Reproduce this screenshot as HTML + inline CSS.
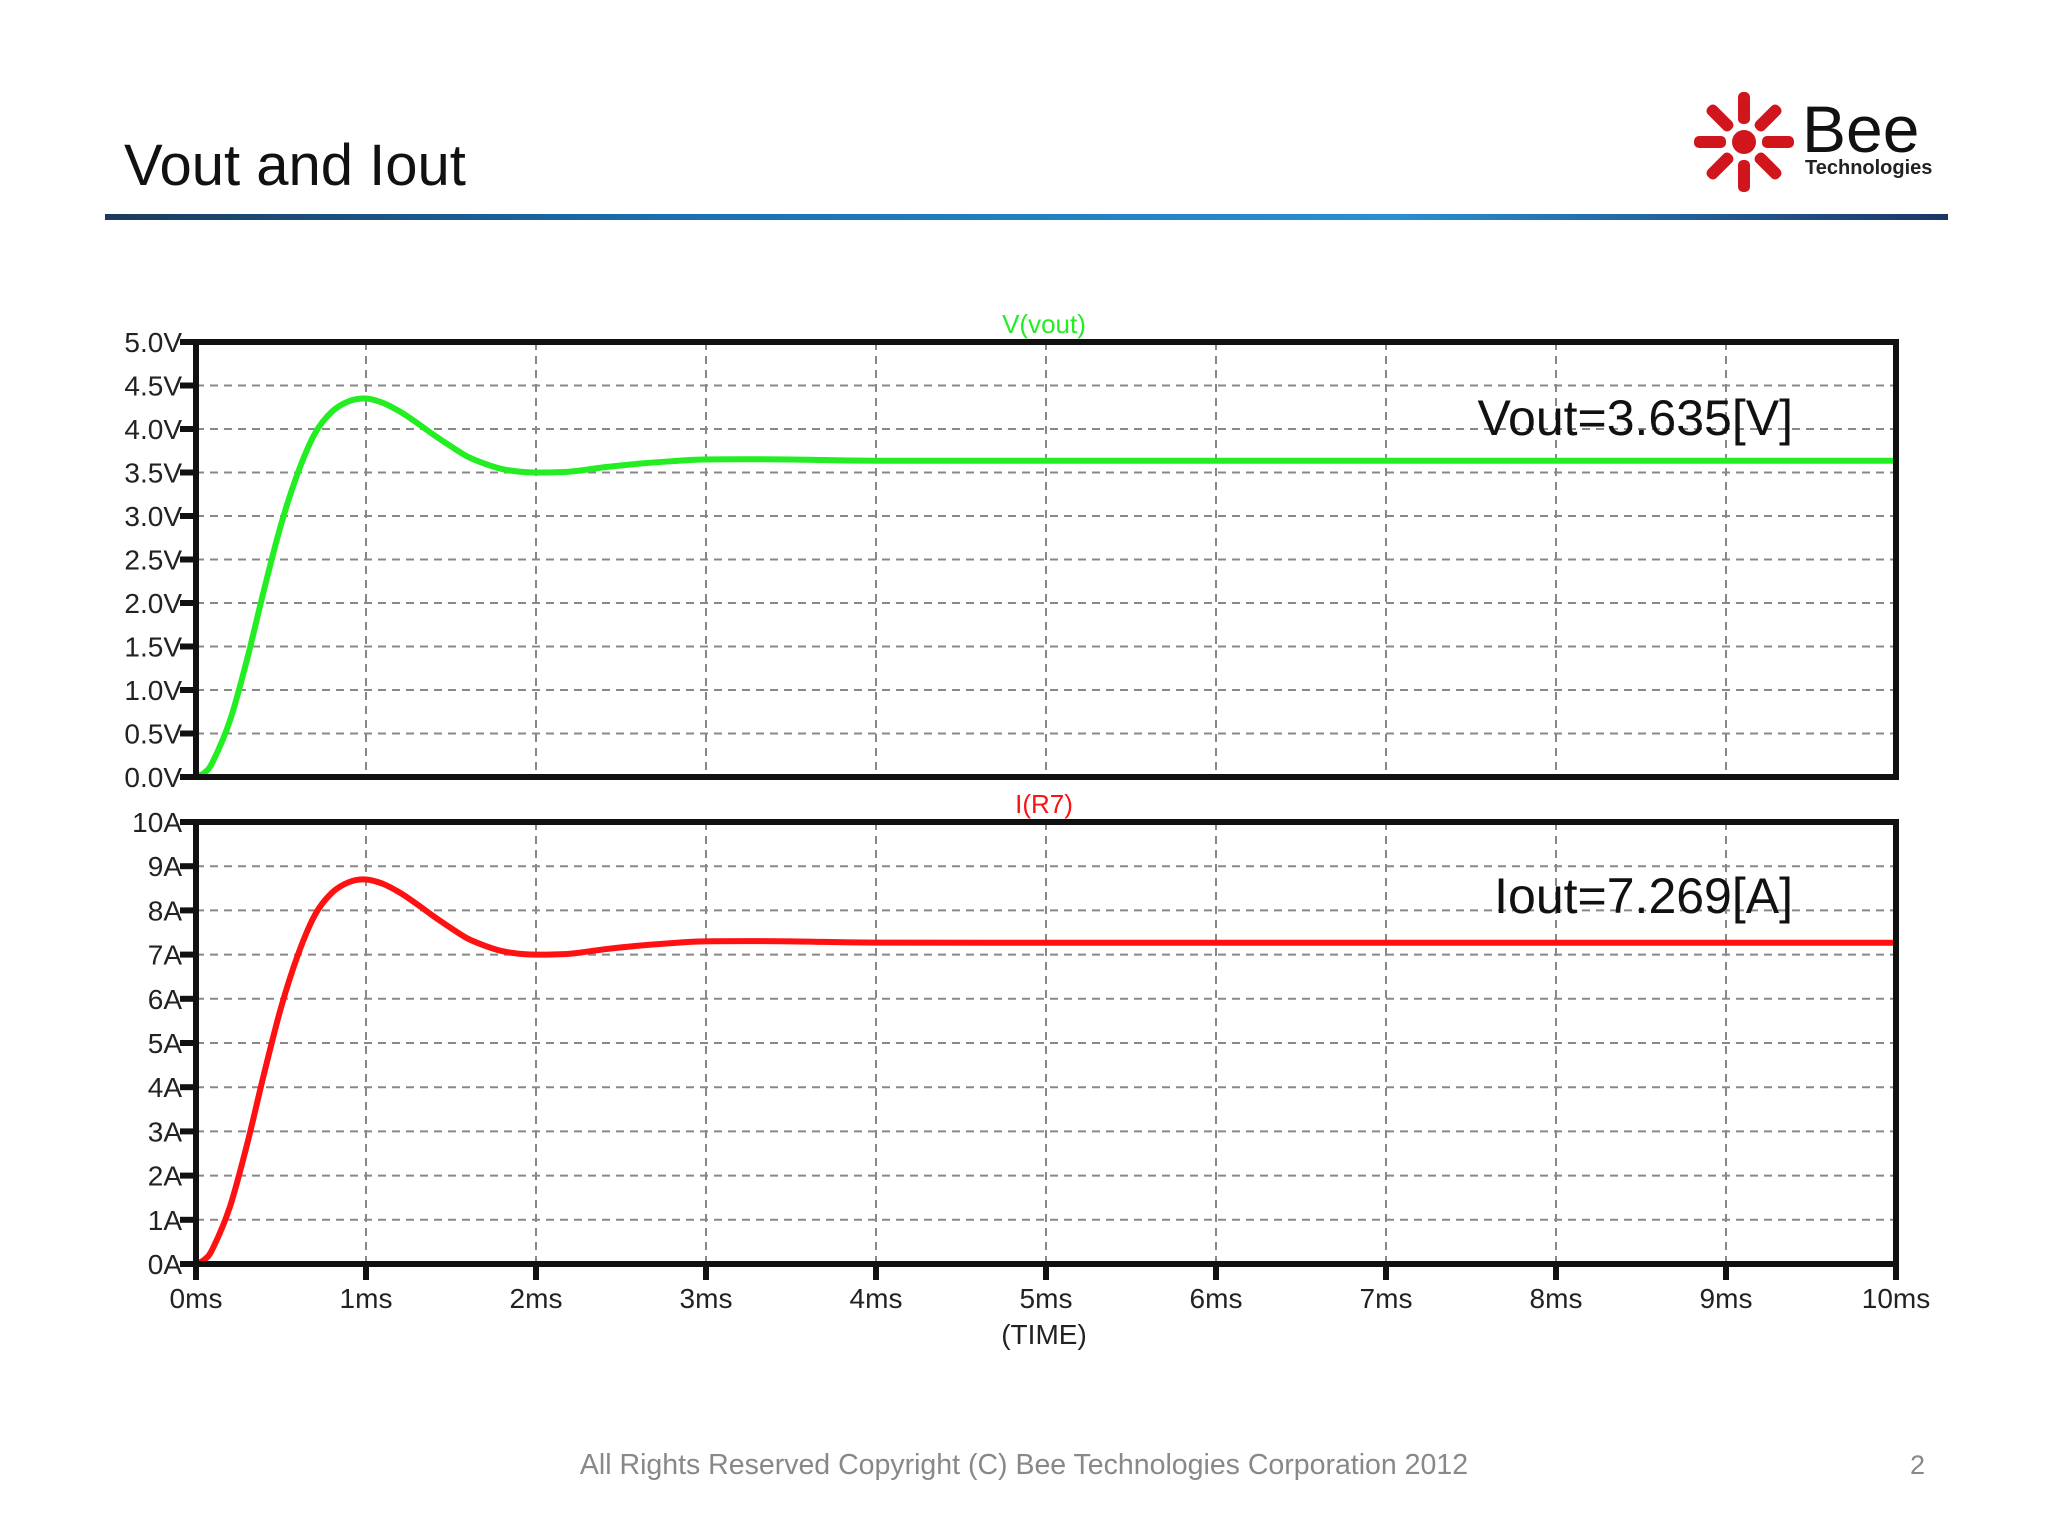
<!DOCTYPE html>
<html><head><meta charset="utf-8"><style>
body{margin:0;background:#fff;}
svg{display:block;font-family:"Liberation Sans",sans-serif;}
</style></head><body>
<svg id="c" width="2048" height="1536" viewBox="0 0 2048 1536">
<defs><linearGradient id="hg" x1="0" x2="1"><stop offset="0" stop-color="#1b3a5c"/><stop offset="0.3" stop-color="#1a6fb0"/><stop offset="0.7" stop-color="#2a8fd0"/><stop offset="1" stop-color="#1c3566"/></linearGradient></defs>
<text x="124" y="185" font-size="58" fill="#111">Vout and Iout</text>
<rect x="105" y="214" width="1843" height="6" fill="url(#hg)"/>
<g>
<g transform="translate(1744,142)" fill="#d0161c">
<circle r="12"/>
<g id="ray"><rect x="18" y="-6" width="32" height="12" rx="5"/></g>
<use href="#ray" transform="rotate(45)"/><use href="#ray" transform="rotate(90)"/><use href="#ray" transform="rotate(135)"/><use href="#ray" transform="rotate(180)"/><use href="#ray" transform="rotate(225)"/><use href="#ray" transform="rotate(270)"/><use href="#ray" transform="rotate(315)"/>
</g>
<text x="1802" y="152" font-size="66" fill="#111">Bee</text>
<text x="1805" y="174" font-size="20" font-weight="bold" fill="#222">Technologies</text>
</g>
<g id="plots"></g>
<text x="1024" y="1474" font-size="28.5" fill="#888" text-anchor="middle">All Rights Reserved Copyright (C) Bee Technologies Corporation 2012</text>
<text x="1925" y="1474" font-size="27" fill="#888" text-anchor="end">2</text>
</svg>
<script>
const timeMs=[0,0.05,0.1,0.2,0.3,0.4,0.5,0.6,0.7,0.8,0.9,1.0,1.1,1.2,1.3,1.4,1.5,1.6,1.7,1.8,1.9,2.0,2.2,2.4,2.6,2.8,3.0,3.5,4.0,5,6,7,8,9,10];
const vout=[0,0.05,0.18,0.65,1.35,2.15,2.9,3.5,3.95,4.2,4.32,4.35,4.3,4.2,4.07,3.93,3.8,3.68,3.6,3.54,3.51,3.5,3.51,3.56,3.6,3.63,3.65,3.65,3.635,3.635,3.635,3.635,3.635,3.635,3.635];
const iout=[0,0.1,0.36,1.3,2.7,4.3,5.8,7.0,7.9,8.4,8.64,8.7,8.6,8.4,8.14,7.86,7.6,7.36,7.2,7.08,7.02,7.0,7.02,7.12,7.2,7.26,7.3,7.3,7.27,7.269,7.269,7.269,7.269,7.269,7.269];
const xTicks=["0ms","1ms","2ms","3ms","4ms","5ms","6ms","7ms","8ms","9ms","10ms"];
const vTicks=["0.0V","0.5V","1.0V","1.5V","2.0V","2.5V","3.0V","3.5V","4.0V","4.5V","5.0V"];
const iTicks=["0A","1A","2A","3A","4A","5A","6A","7A","8A","9A","10A"];
const NS="http://www.w3.org/2000/svg";
const g=document.getElementById('plots');
const X0=196,X1=1896;
const x=t=>X0+(X1-X0)*t/10;
function mk(tag,a,parent){const e=document.createElementNS(NS,tag);for(const k in a)e.setAttribute(k,a[k]);(parent||g).appendChild(e);return e;}
function smooth(p){let d='M'+p[0][0]+','+p[0][1];
  for(let i=0;i<p.length-1;i++){const a=p[Math.max(i-1,0)],b=p[i],c=p[i+1],e=p[Math.min(i+2,p.length-1)];
    const c1=[b[0]+(c[0]-a[0])/6,b[1]+(c[1]-a[1])/6],c2=[c[0]-(e[0]-b[0])/6,c[1]-(e[1]-b[1])/6];
    d+=' C'+c1+' '+c2+' '+c;}
  return d;}
function panel(top,bot,max,ticks,data,color,label,ann,name){
  const y=v=>bot-(bot-top)*v/max;
  const pg=mk('g',{});
  
  
  for(let i=1;i<10;i++){const l=mk('line',{x1:x(i),x2:x(i),y1:top,y2:bot,stroke:'#888','stroke-width':2,'stroke-dasharray':'8 6'},pg);
    
    }
  ticks.forEach((s,i)=>{const v=max*i/(ticks.length-1);const yy=y(v);
    if(i>0&&i<ticks.length-1){const l=mk('line',{x1:X0,x2:X1,y1:yy,y2:yy,stroke:'#888','stroke-width':2,'stroke-dasharray':'8 6'},pg);
      
      }
    mk('line',{x1:X0-16,x2:X0,y1:yy,y2:yy,stroke:'#111','stroke-width':6},pg);
    const t=mk('text',{x:X0-14,y:yy+10,'font-size':28,fill:'#222','text-anchor':'end'},pg);t.textContent=s;
    
    
  });
  const pts=timeMs.map((t,i)=>[x(t),y(data[i])]);
  const pl=mk('path',{d:smooth(pts),fill:'none',stroke:color,'stroke-width':6,'stroke-linejoin':'round'},pg);
  
  
  const fr=mk('rect',{x:X0,y:top,width:X1-X0,height:bot-top,fill:'none',stroke:'#111','stroke-width':6},pg);
  
  
  const lb=mk('text',{x:1044,y:top-9,'font-size':26,fill:color,'text-anchor':'middle'},pg);lb.textContent=label;
  
  
  const an=mk('text',{x:1793,y:ann[1],'font-size':50,fill:'#111','text-anchor':'end'},pg);an.textContent=ann[0];
  
  
}
panel(342,777,5,vTicks,vout,'#22ee22','V(vout)',['Vout=3.635[V]',435],'vout');
panel(822,1264,10,iTicks,iout,'#ff1111','I(R7)',['Iout=7.269[A]',913],'iout');
xTicks.forEach((s,i)=>{
  mk('line',{x1:x(i),x2:x(i),y1:1264,y2:1280,stroke:'#111','stroke-width':6});
  const t=mk('text',{x:x(i),y:1308,'font-size':28,fill:'#222','text-anchor':'middle'});t.textContent=s;
  
  
});
const xt=mk('text',{x:1044,y:1344,'font-size':28,fill:'#222','text-anchor':'middle'});xt.textContent='(TIME)';


</script>
</body></html>
